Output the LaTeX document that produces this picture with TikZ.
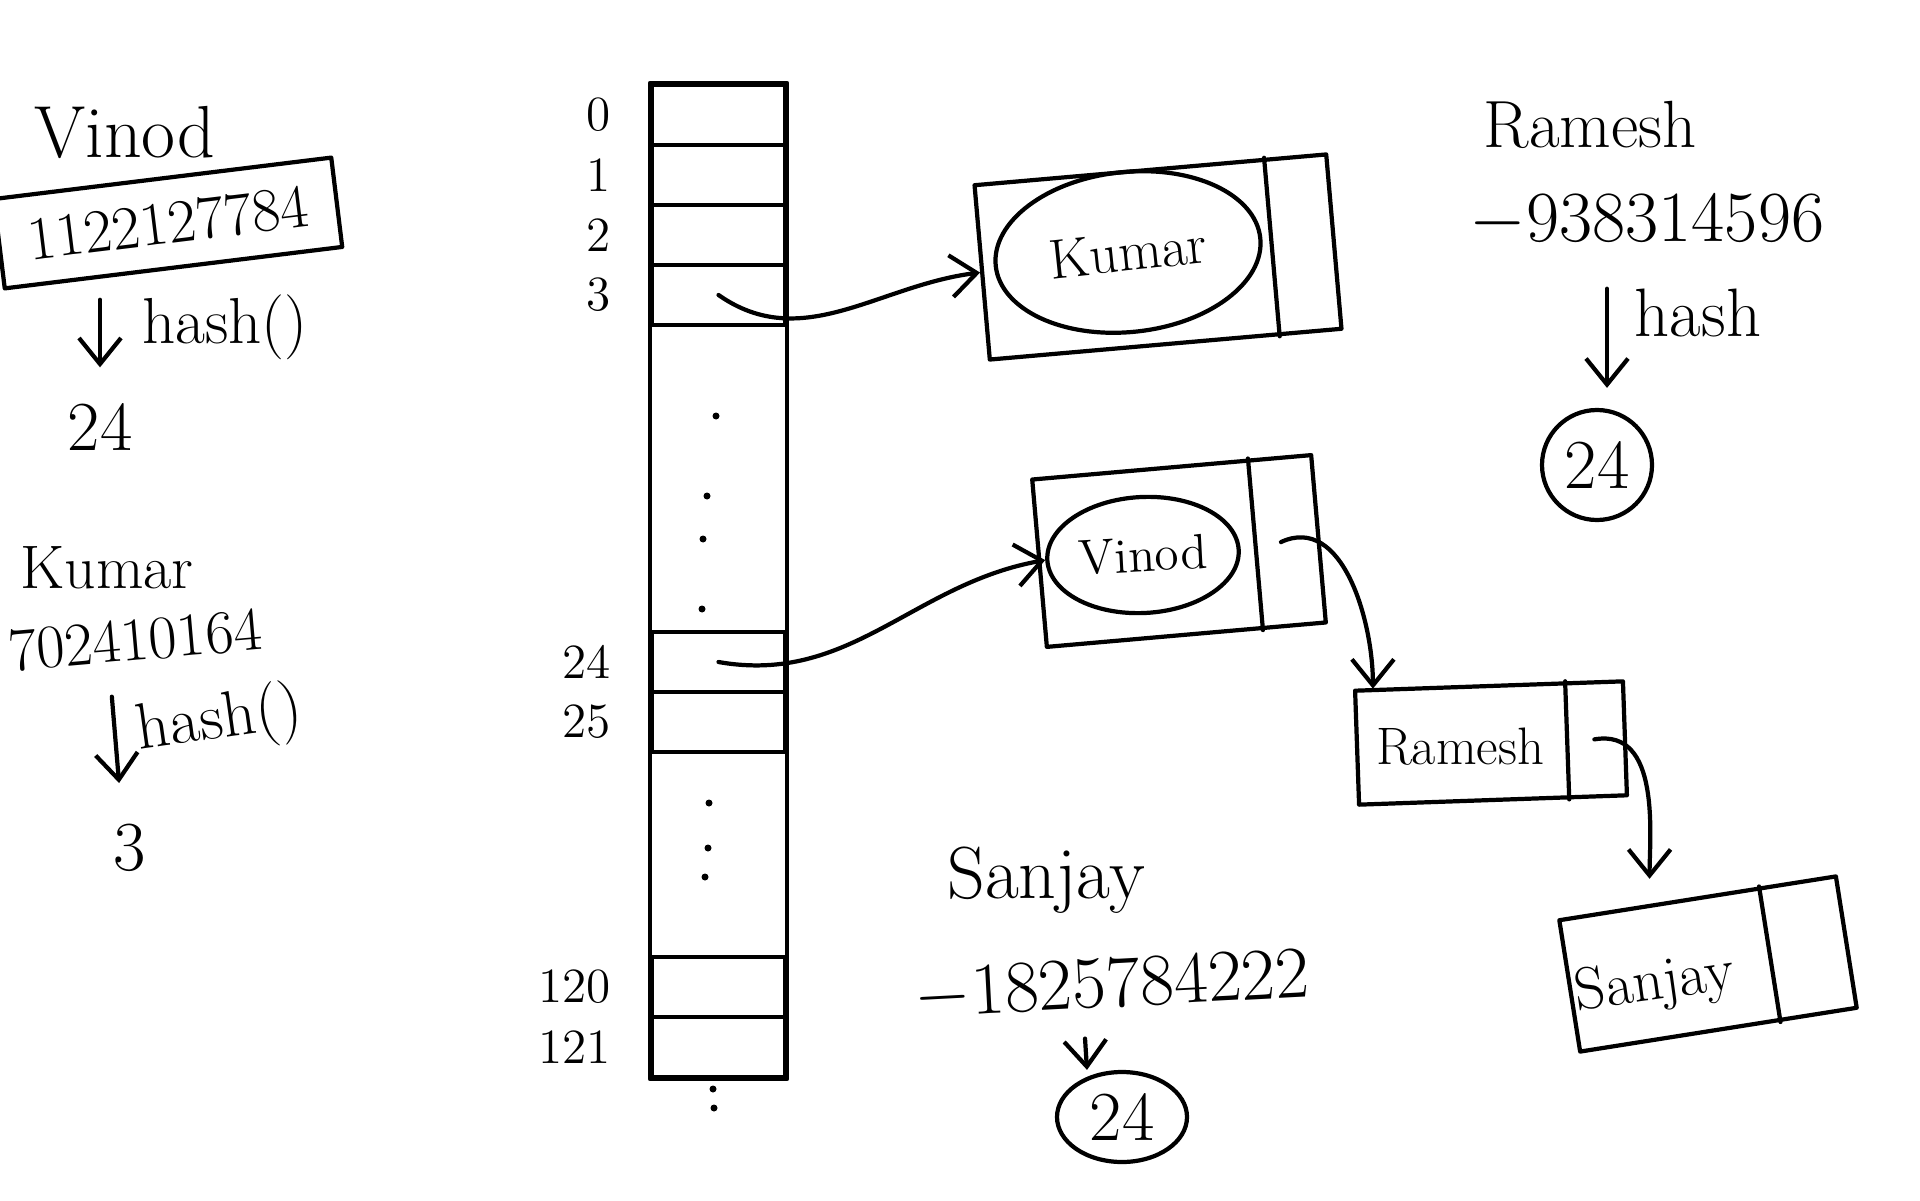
\documentclass[tikz,border=0pt]{standalone}
\usepackage{amsmath}
\usepackage{tikz}
\usetikzlibrary{arrows.meta, positioning, calc, shapes.geometric}

\begin{document}
\begin{tikzpicture}[>={Straight Barb[length=2.6mm, width=4.2mm]}, line width=1.2pt, line cap=round, line join=round,
  hand/.style={font=\fontsize{#1}{#1}\selectfont, inner sep=1pt}, hand/.default=19,
  idx/.style={font=\fontsize{14}{14}\selectfont},
  cell/.style={draw, minimum width=1.33cm, minimum height=0.6cm, inner sep=0pt},
  listbox/.style={draw, inner sep=0pt}]
  \useasboundingbox (0,0) rectangle (19.2,12);

  \node[hand=21, anchor=base] (vname) at (1.25,10.42) {Vinod};
  \node[hand=17.5, draw, rotate=7, minimum width=3.4cm, minimum height=0.9cm] (vcode) at (1.68,9.77) {1122127784};
  \node[hand=20, anchor=base] (v24) at (1.0,7.5) {24};
  \draw[->, shorten <=3mm, shorten >=3mm] (v24.north |- vcode.south) -- (v24.north);
  \node[hand=18.5, anchor=base] (vhash) at (2.25,8.57) {hash()};

  \node[hand=17.5, anchor=base] (kname) at (1.07,6.12) {Kumar};
  \node[hand=17.5, rotate=5] (kcode) at (1.35,5.60) {702410164};
  \node[hand=20, anchor=base] (k3) at (1.30,3.30) {3};
  \draw[->, shorten <=3mm, shorten >=3.5mm] ([xshift=-2.8mm]kcode.south) -- ([xshift=-0.8mm]k3.north);
  \node[hand=18.5, rotate=8, anchor=base] (khash) at (2.22,4.62) {hash()};

  \foreach \i/\y in {0/10.85, 1/10.25, 2/9.65, 3/9.05, 24/5.38, 25/4.78, 120/2.13, 121/1.53}
    \node[cell, label={[idx, label distance=2.5mm]left:\i}] (r\i) at (7.185,\y) {};
  \draw (r0.north west) rectangle (r121.south east);
  \foreach \p in {(7.16,7.84), (7.07,7.04), (7.03,6.61), (7.02,5.91), (7.09,3.97), (7.08,3.52), (7.05,3.23), (7.13,1.11), (7.14,0.92)}
    \fill \p circle (0.035);

  \node[listbox, minimum width=3.53cm, minimum height=1.75cm, rotate=5] (kbox) at (11.58,9.43) {};
  \node[draw, ellipse, minimum width=2.66cm, minimum height=1.6cm, rotate=6, hand=16] (kumar) at (11.28,9.48) {Kumar};
  \draw ($(kbox.north east)!0.18!(kbox.north west)$) -- ($(kbox.south east)!0.18!(kbox.south west)$);

  \node[listbox, minimum width=2.8cm, minimum height=1.68cm, rotate=5] (vbox) at (11.79,6.49) {};
  \node[draw, ellipse, minimum width=1.86cm, minimum height=1.16cm, rotate=3, hand=14] (vinod) at (11.43,6.45) {Vinod};
  \draw ($(vbox.north east)!0.23!(vbox.north west)$) -- ($(vbox.south east)!0.23!(vbox.south west)$);

  \node[listbox, minimum width=2.68cm, minimum height=1.14cm, rotate=2] (rbox) at (14.91,4.57) {};
  \node[hand=15] (ramesh) at (14.60,4.53) {Ramesh};
  \draw ($(rbox.north east)!0.22!(rbox.north west)$) -- ($(rbox.south east)!0.22!(rbox.south west)$);

  \node[listbox, minimum width=2.8cm, minimum height=1.33cm, rotate=9] (sbox) at (17.08,2.36) {};
  \node[hand=17, rotate=8] (sanjay) at (16.55,2.15) {Sanjay};
  \draw ($(sbox.north east)!0.28!(sbox.north west)$) -- ($(sbox.south east)!0.28!(sbox.south west)$);

  \draw[->] (r3.center) to[out=-35, in=187] (kbox.west);
  \draw[->] (r24.center) to[out=-10, in=190] (vinod.west);
  \draw[->] ($(vbox.east)!0.14!(vbox.west)$) to[out=25, in=90] ([xshift=2mm]rbox.north west);
  \draw[->, shorten >=2.5mm] ($(rbox.east)!0.12!(rbox.west)$) to[out=10, in=90] ($(sbox.north west)!0.66!(sbox.north)$);

  \node[hand=19, anchor=base] (rname) at (15.90,10.52) {Ramesh};
  \node[hand=20.5, anchor=base] (rcode) at (16.47,9.58) {$-$938314596};
  \node[hand=19.5, anchor=base] (rhash) at (16.98,8.63) {hash};
  \node[draw, circle, minimum size=1.1cm, hand=20, inner sep=0pt] (rcirc) at (15.97,7.35) {24};
  \draw[->, shorten <=3.5mm, shorten >=2mm] ([xshift=1mm]rcirc.north |- rcode.south) -- ([xshift=1mm]rcirc.north);

  \node[hand=21, anchor=base] (sname) at (10.46,3.02) {Sanjay};
  \node[hand=21, rotate=3] (scode) at (11.12,2.15) {$-$1825784222};
  \node[draw, ellipse, minimum width=1.3cm, minimum height=0.9cm, hand=20, inner sep=0pt] (s24) at (11.22,0.83) {24};
  \draw[->, shorten <=2mm] ([xshift=-3mm]scode.south) -- ([xshift=-3.5mm]s24.north);
\end{tikzpicture}
\end{document}
